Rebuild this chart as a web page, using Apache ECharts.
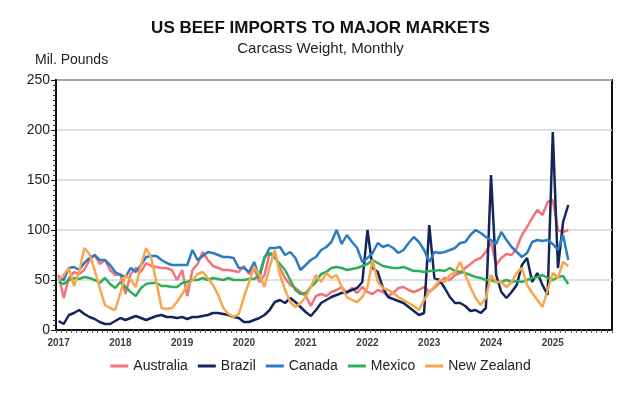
<!DOCTYPE html>
<html>
<head>
<meta charset="utf-8">
<script src="https://cdn.jsdelivr.net/npm/echarts@6.0.0/dist/echarts.min.js"></script>
<style>
  html, body { margin: 0; padding: 0; background: #fff; }
  #chart { width: 641px; height: 397px; }
</style>
</head>
<body>
<div id="chart"></div>
<script>
// monthly data, Jan 2017 - Apr 2025, million pounds
const years = ['2017', '2018', '2019', '2020', '2021', '2022', '2023', '2024', '2025'];

const australia = [
  55, 32, 52, 58, 56, 60, 70, 75, 66, 70, 60, 55,
  56, 36, 56, 62, 58, 67, 64, 63, 62, 62, 60, 50,
  60, 34, 60, 66, 78, 70, 64, 62, 60, 60, 59, 58,
  64, 56, 62, 48, 55, 77, 75, 62, 52, 45, 42, 38,
  34, 24, 34, 36, 34, 38, 40, 43, 37, 42, 37, 43,
  38, 36, 40, 38, 34, 37, 42, 43, 40, 38, 40, 43,
  38, 42, 47, 52, 50, 55, 57, 62, 66, 70, 72, 78,
  88, 65, 72, 76, 75, 82, 95, 103, 112, 120, 115, 128,
  130, 100, 98, 100
];
const brazil = [
  9, 6, 15, 17, 20, 16, 13, 11, 8, 6, 6, 9,
  12, 10, 12, 14, 12, 10, 12, 14, 15, 13, 13, 12,
  13, 11, 13, 13, 14, 15, 17, 17, 16, 15, 13, 12,
  8, 8, 10, 12, 15, 20, 28, 30, 27, 32, 28, 23,
  18, 14, 20, 27, 30, 33, 35, 37, 38, 40, 42, 48,
  100, 62, 58, 42, 33, 31, 29, 27, 23, 19, 15, 17,
  105, 52, 50, 42, 33, 27, 27, 24, 19, 20, 17, 22,
  155, 55, 38, 32, 38, 45, 65, 72, 48, 57, 45, 35,
  198, 62, 108, 125
];
const canada = [
  52, 50, 62, 63, 60, 67, 72, 75, 70, 70, 65, 58,
  55, 53, 62, 58, 65, 73, 74, 74, 70, 67, 65, 65,
  65, 65, 80, 70, 74, 78, 77, 75, 73, 73, 72, 62,
  62, 58, 68, 52, 72, 82, 82, 83, 75, 78, 72, 60,
  65, 70, 73, 80, 83, 88, 100, 86, 95, 88, 82, 68,
  72, 77, 87, 83, 85, 82, 77, 80, 87, 93, 88, 80,
  68, 78, 77, 78, 80, 82, 87, 88, 95, 100, 97, 93,
  90, 86, 98, 90, 83, 78, 73, 77, 88, 90, 89, 90,
  86, 80, 95, 70
];
const mexico = [
  48, 46, 50, 52, 51, 53, 52, 50, 47, 52, 46, 42,
  48, 43, 38, 34, 42, 46, 47, 47, 44, 44, 43, 43,
  47, 48, 50, 50, 52, 50, 52, 51, 50, 52, 50, 50,
  50, 51, 51, 55, 73, 77, 72, 66, 60, 50, 40, 36,
  37, 43, 48, 56, 58, 62, 63, 62, 60, 61, 62, 64,
  66, 70, 67, 64, 63, 62, 62, 63, 61, 59, 59, 58,
  59, 59, 60, 59, 62, 59, 58, 57, 55, 53, 52, 50,
  50, 48, 48, 50, 48, 49, 48, 50, 52, 53, 55, 52,
  50, 53, 54, 46
];
const newZealand = [
  50, 55, 62, 44, 58, 82, 76, 60, 42, 25, 22, 20,
  37, 55, 50, 43, 65, 82, 72, 48, 22, 21, 22, 28,
  36, 44, 50, 56, 58, 52, 45, 35, 22, 16, 13, 16,
  33, 48, 63, 55, 43, 63, 80, 55, 40, 28, 23, 27,
  33, 43, 55, 48, 57, 52, 55, 43, 33, 30, 28, 33,
  43, 70, 48, 42, 40, 37, 33, 30, 27, 24, 20, 30,
  38, 43, 50, 48, 55, 58, 68, 55, 43, 32, 25, 32,
  55, 48, 48, 43, 48, 57, 62, 45, 37, 30, 23, 40,
  57, 52, 68, 64
];

const months = [];
years.forEach(y => {
  for (let m = 1; m <= 12; m++) months.push(y + '-' + String(m).padStart(2, '0'));
});

const names = ['Australia', 'Brazil', 'Canada', 'Mexico', 'New Zealand'];
const colors = ['#F2737A', '#14255A', '#2C7CC3', '#2EAE57', '#F6A64C'];
const values = [australia, brazil, canada, mexico, newZealand];

const chart = echarts.init(document.getElementById('chart'));
chart.setOption({
  animation: false,
  backgroundColor: '#fff',
  textStyle: { fontFamily: 'Liberation Sans, Arial, sans-serif' },
  title: [
    {
      text: 'US BEEF IMPORTS TO MAJOR MARKETS',
      left: 'center', top: 15,
      textStyle: { fontSize: 17, fontWeight: 'bold', color: '#111' }
    },
    {
      text: 'Carcass Weight, Monthly',
      left: 'center', top: 36,
      textStyle: { fontSize: 15, fontWeight: 'normal', color: '#222' }
    },
    {
      text: 'Mil. Pounds',
      left: 30, top: 48,
      textStyle: { fontSize: 14, fontWeight: 'normal', color: '#222' }
    }
  ],
  legend: {
    data: names,
    top: 354,
    left: 'center',
    icon: 'rect',
    itemWidth: 18,
    itemHeight: 3,
    itemGap: 10,
    textStyle: { fontSize: 14, color: '#222' }
  },
  grid: {
    left: 56, right: 29, top: 80, bottom: 67,
    show: true, borderColor: '#111', borderWidth: 2
  },
  xAxis: {
    type: 'category',
    data: months,
    boundaryGap: true,
    axisLine: { lineStyle: { color: '#111', width: 2 } },
    axisTick: { show: true, interval: 0, length: 3, lineStyle: { color: '#555' } },
    axisLabel: {
      interval: (i) => i % 12 === 0,
      formatter: (v) => v.slice(0, 4),
      fontSize: 10, fontWeight: 'bold', color: '#404040', margin: 8
    },
    splitLine: { show: false }
  },
  yAxis: {
    type: 'value',
    min: 0, max: 250, interval: 50,
    axisLine: { show: true, lineStyle: { color: '#111', width: 2 } },
    axisTick: { show: true, length: 5, lineStyle: { color: '#111' } },
    minorTick: { show: true, splitNumber: 10, length: 3, lineStyle: { color: '#333' } },
    axisLabel: { fontSize: 14, color: '#222', margin: 6 },
    splitLine: { lineStyle: { color: '#d6d6d6', width: 1.5 } }
  },
  series: names.map((n, i) => ({
    name: n,
    type: 'line',
    data: values[i],
    symbol: 'none',
    smooth: false,
    color: colors[i],
    lineStyle: { width: 2.5, color: colors[i] }
  }))
});
</script>
</body>
</html>
